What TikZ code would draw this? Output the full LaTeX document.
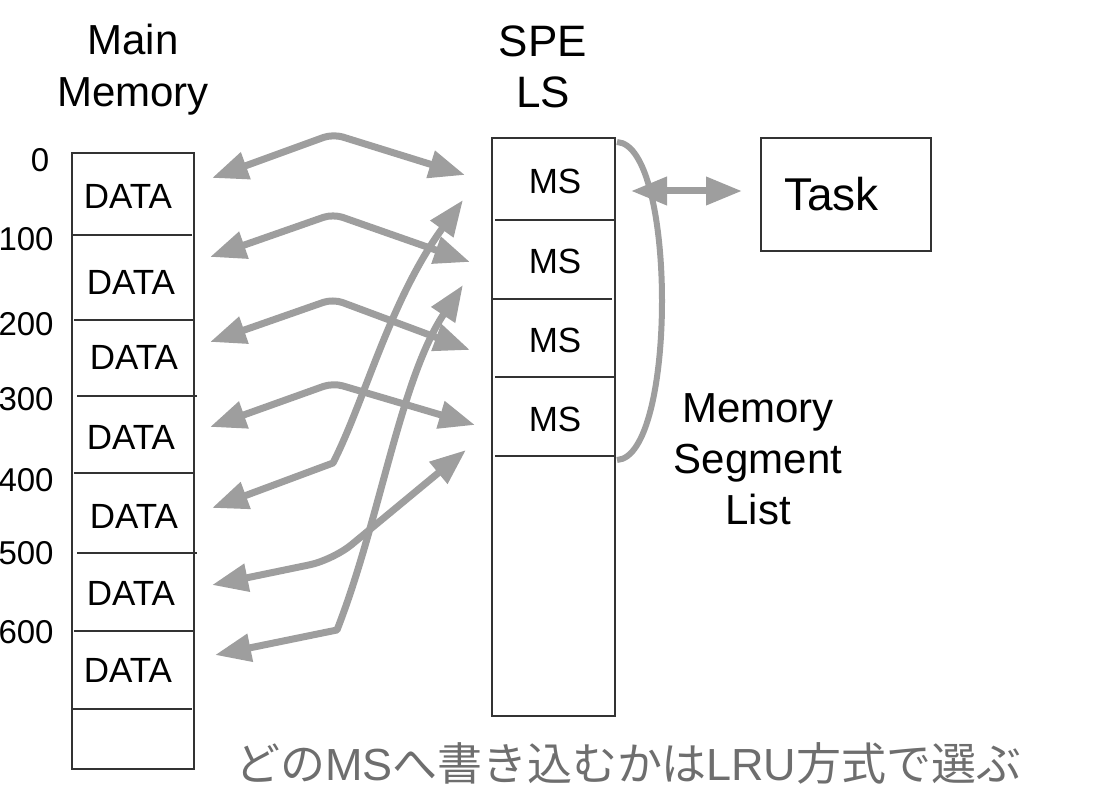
\documentclass[tikz,border=0pt]{standalone}
\usepackage{fontspec}
\setmainfont{Liberation Sans}
\newfontfamily\cjk{Noto Sans CJK JP}
\usetikzlibrary{arrows.meta}
\definecolor{linkgray}{rgb}{0.62,0.62,0.62}
\definecolor{notegray}{rgb}{0.43,0.43,0.43}
\definecolor{boxline}{rgb}{0.2,0.2,0.2}

\begin{document}
\begin{tikzpicture}[x=0.5pt, y=-0.5pt,
    link/.style={draw=linkgray, line width=3.5pt, line join=round, rounded corners=5pt,
      arrows={Triangle[length=18pt,width=13.5pt]-Triangle[length=18pt,width=13.5pt]}},
    cell/.style={inner sep=0pt, font=\fontsize{17.5}{21}\selectfont},
    addr/.style={inner sep=0pt, anchor=east, font=\fontsize{16.5}{19}\selectfont},
    title/.style={inner sep=0pt, align=center}]
        \useasboundingbox (0,0) rectangle (1104,792);
        % main memory
        \draw[boxline, line width=1pt] (72,153) rectangle (194,769);
        \draw[boxline, line width=0.7pt] (72,235) -- (192,235);
        \draw[boxline, line width=0.7pt] (74,320) -- (194,320);
        \draw[boxline, line width=0.7pt] (77,396) -- (197,396);
        \draw[boxline, line width=0.7pt] (74,473) -- (194,473);
        \draw[boxline, line width=0.7pt] (77,553) -- (197,553);
        \draw[boxline, line width=0.7pt] (74,631) -- (194,631);
        \draw[boxline, line width=0.7pt] (72,709) -- (192,709);
        \node[title, font=\fontsize{21}{26}\selectfont] (mm) at (133,70) {Main\\Memory};
        \node[cell] (d1) at (128,196.5) {DATA};
        \node[cell] (d2) at (131,282) {DATA};
        \node[cell] (d3) at (134,357) {DATA};
        \node[cell] (d4) at (131,437) {DATA};
        \node[cell] (d5) at (134,516) {DATA};
        \node[cell] (d6) at (131,593) {DATA};
        \node[cell] (d7) at (128,670) {DATA};
        \node[inner sep=0pt, font=\fontsize{16.5}{19}\selectfont] (n0) at (40,160) {0};
        \node[addr] (n1) at (54,239) {100};
        \node[addr] (n2) at (54,324) {200};
        \node[addr] (n3) at (54,399) {300};
        \node[addr] (n4) at (54,480) {400};
        \node[addr] (n5) at (54,553) {500};
        \node[addr] (n6) at (54,632) {600};
        % SPE local store
        \draw[boxline, line width=1pt] (492,138) rectangle (615,716);
        \draw[boxline, line width=0.7pt] (495,220) -- (615,220);
        \draw[boxline, line width=0.7pt] (492,299) -- (612,299);
        \draw[boxline, line width=0.7pt] (495,377) -- (615,377);
        \draw[boxline, line width=0.7pt] (495,456) -- (615,456);
        \node[title, font=\fontsize{22}{25.5}\selectfont] (ls) at (543,67) {SPE\\LS};
        \node[cell] (m1) at (555,181) {MS};
        \node[cell] (m2) at (555,261.5) {MS};
        \node[cell] (m3) at (555,340) {MS};
        \node[cell] (m4) at (555,419) {MS};
        % segment list and task
        \coordinate (lstop) at (617,142);
        \coordinate (lsbot) at (617,460);
        \draw[linkgray, line width=3pt] (lstop) .. controls (677,145) and (677,457) .. (lsbot);
        \node[title, font=\fontsize{21}{25.5}\selectfont] (seglist) at (758,459) {Memory\\Segment\\List};
        \node[draw=boxline, line width=1pt, minimum width=85pt, minimum height=56.5pt,
          text width=62pt, inner xsep=11.5pt, align=left,
          font=\fontsize{23}{27}\selectfont] (task) at (846,194.5) {Task};
        \coordinate (seg) at (631,191);
        \draw[link, shorten >=9pt] (seg) -- (seg -| task.west);
        % DATA <-> MS
        \coordinate (a1) at (212,178); \coordinate (p1) at (333,134); \coordinate (b1) at (465,175);
        \coordinate (a2) at (210,257); \coordinate (p2) at (333,214); \coordinate (b2) at (470,262);
        \coordinate (a3) at (210,342); \coordinate (p3) at (333,299); \coordinate (b3) at (470,350);
        \coordinate (a4) at (210,427); \coordinate (p4) at (333,383); \coordinate (b4) at (475,425);
        \draw[link] (a1) -- (p1) -- (b1);
        \draw[link] (a2) -- (p2) -- (b2);
        \draw[link] (a3) -- (p3) -- (b3);
        \draw[link] (a4) -- (p4) -- (b4);
        \coordinate (a5) at (212,508); \coordinate (p5) at (333,463); \coordinate (b5) at (463,200);
        \coordinate (a6) at (212,585); \coordinate (p6) at (333,560); \coordinate (b6) at (466,450);
        \coordinate (a7) at (215,655); \coordinate (p7) at (337,630); \coordinate (b7) at (463,285);
        \draw[link, sharp corners] (a5) -- (p5) .. controls (365,400) and (390,300) .. (b5);
        \draw[link, rounded corners=12pt] (a6) -- (p6) -- (b6);
        \draw[link, sharp corners] (a7) -- (p7) .. controls (380,520) and (400,380) .. (b7);
        % note
        \node[anchor=base west, inner sep=0pt, text=notegray, font=\fontsize{22.5}{27}\selectfont]
          (note) at (235,780) {{\cjk どの}MS{\cjk へ書き込むかは}LRU{\cjk 方式で選ぶ}};
\end{tikzpicture}
\end{document}
